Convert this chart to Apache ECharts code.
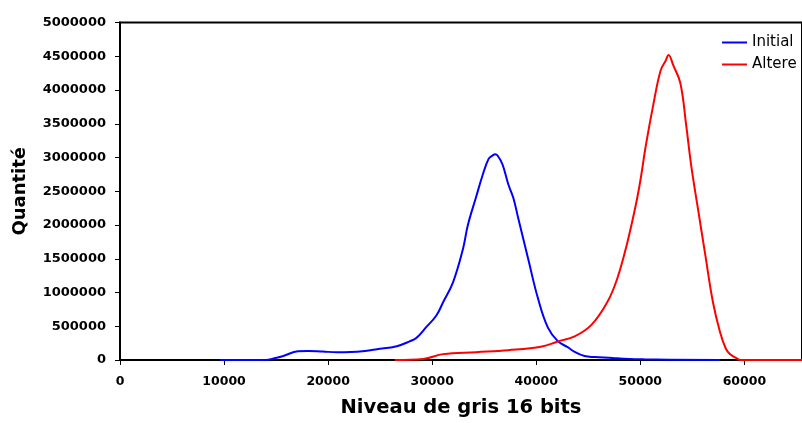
<!DOCTYPE html>
<html>
<head>
<meta charset="utf-8">
<script src="https://cdn.jsdelivr.net/npm/echarts@6/dist/echarts.min.js"></script>
<style>
html,body{margin:0;padding:0;background:#fff;}
#chart{width:802px;height:423px;}
</style>
</head>
<body>
<div id="chart"></div>
<script>
const seriesNames = ['Initial', 'Altere'];
const xTickLabels = [0, 10000, 20000, 30000, 40000, 50000, 60000];
const yTickLabels = [0, 500000, 1000000, 1500000, 2000000, 2500000, 3000000, 3500000, 4000000, 4500000, 5000000];

const initialX = [9600,14050,14700,15700,17100,18050,19470,20900,22130,23550,24690,26600,27830,28500,29440,30400,31050,32000,32950,33430,34190,34850,35420,35800,36050,36280,36750,37320,37800,38270,39220,40170,41120,42070,43020,43690,44640,45590,47770,50330,57650];
const initialY = [0,0,20000,60000,130000,135000,125000,115000,118000,135000,160000,205000,275000,330000,490000,660000,855000,1150000,1640000,2000000,2400000,2740000,2980000,3030000,3050000,3030000,2900000,2600000,2400000,2100000,1500000,910000,480000,280000,190000,120000,58000,43000,25000,10000,0];

const altereX = [26400,29150,31050,34200,37300,40550,42070,43690,45300,46820,47770,48720,49570,50050,50520,51280,51950,52420,52710,53180,53850,54420,54890,55560,56220,56980,57650,58210,58600,59160,59640,65536];
const altereY = [0,15000,87000,116000,145000,200000,275000,350000,520000,855000,1200000,1720000,2300000,2700000,3170000,3810000,4290000,4430000,4520000,4360000,4100000,3460000,2880000,2220000,1580000,855000,420000,170000,90000,35000,0,0];

const zip = (xs, ys) => xs.map((x, i) => [x, ys[i]]);
const FONT = 'DejaVu Sans';

const chart = echarts.init(document.getElementById('chart'));
chart.setOption({
  animation: false,
  backgroundColor: '#ffffff',
  grid: {
    left: 120, top: 22.5, width: 690, bottom: 57.5,
    show: true, borderColor: '#000', borderWidth: 2, backgroundColor: 'transparent'
  },
  legend: {
    orient: 'vertical',
    left: 717, top: 30,
    icon: 'rect',
    itemWidth: 25, itemHeight: 2,
    itemGap: 7,
    textStyle: { fontFamily: FONT, fontSize: 15, color: '#000', lineHeight: 15 },
    data: seriesNames
  },
  xAxis: {
    type: 'value',
    min: 0, max: 65536, interval: 10000,
    name: 'Niveau de gris 16 bits',
    nameLocation: 'middle',
    nameGap: 38,
    nameTextStyle: { fontFamily: FONT, fontSize: 19.5, fontWeight: 'bold', color: '#000' },
    axisLine: { show: true, lineStyle: { color: '#000', width: 1.5 } },
    axisTick: { show: true, length: 5, lineStyle: { color: '#000', width: 1 } },
    splitLine: { show: false },
    axisLabel: {
      margin: 15,
      fontFamily: FONT, fontSize: 12.5, fontWeight: 'bold', color: '#000',
      showMaxLabel: false,
      formatter: v => (xTickLabels.indexOf(v) >= 0 ? String(v) : '')
    }
  },
  yAxis: {
    type: 'value',
    min: 0, max: 5000000, interval: 500000,
    name: 'Quantité',
    nameLocation: 'middle',
    nameRotate: 90,
    nameGap: 91,
    nameTextStyle: { fontFamily: FONT, fontSize: 18, fontWeight: 'bold', color: '#000' },
    axisLine: { show: true, lineStyle: { color: '#000', width: 2 } },
    axisTick: { show: true, length: 5, lineStyle: { color: '#000', width: 1 } },
    splitLine: { show: false },
    axisLabel: {
      margin: 14,
      fontFamily: FONT, fontSize: 13, fontWeight: 'bold', color: '#000',
      formatter: v => (yTickLabels.indexOf(v) >= 0 ? String(v) : '')
    }
  },
  series: [
    {
      name: seriesNames[0], type: 'line', data: zip(initialX, initialY),
      showSymbol: false, smooth: 0.4,
      lineStyle: { color: '#0000ff', width: 2 }, itemStyle: { color: '#0000ff' }
    },
    {
      name: seriesNames[1], type: 'line', data: zip(altereX, altereY),
      showSymbol: false, smooth: 0.4,
      lineStyle: { color: '#ff0000', width: 2 }, itemStyle: { color: '#ff0000' }
    }
  ]
});
</script>
</body>
</html>
